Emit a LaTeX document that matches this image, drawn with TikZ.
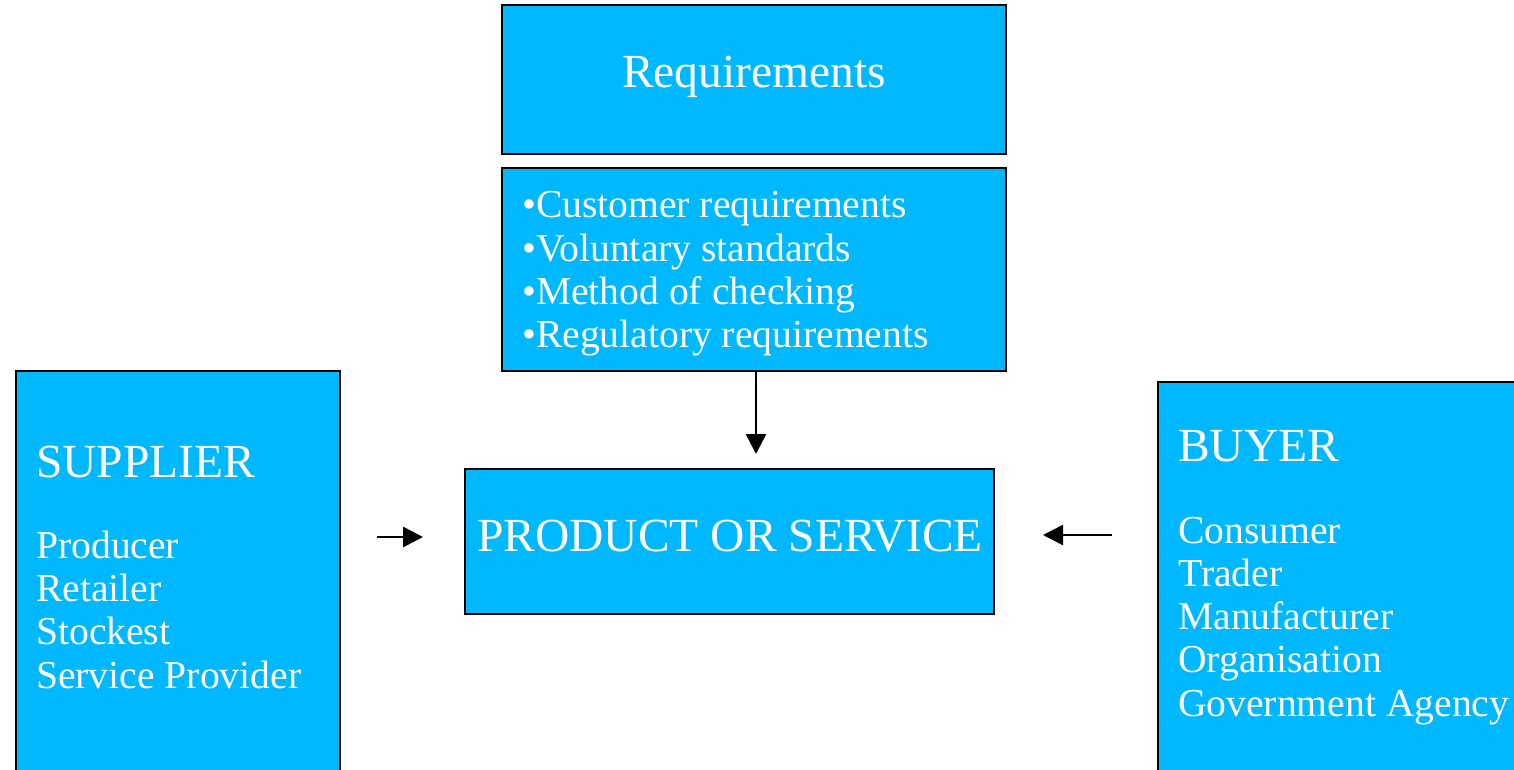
\documentclass[tikz,border=0pt]{standalone}
\usepackage{fontspec}
\setmainfont{Liberation Serif}
\usetikzlibrary{arrows.meta}
\definecolor{boxcyan}{RGB}{0,184,255}
\tikzset{
  box/.style={draw=black, line width=2pt, fill=boxcyan, inner sep=0pt},
  big/.style={text=white, inner sep=0pt, font=\fontsize{47.5}{52}\selectfont},
  small/.style={text=white, inner sep=0pt, anchor=base west, font=\fontsize{39.6}{43}\selectfont},
  arr/.style={line width=2.6pt, -{Triangle[length=20pt,width=20pt]}}
}
\begin{document}
\begin{tikzpicture}[x=1pt,y=-1pt]
\clip (0,0) rectangle (1514,770);
\fill[white] (0,0) rectangle (1514,770);
% boxes
\node[box, minimum width=504, minimum height=149] (req) at (754,79.5) {};
\node[box, minimum width=504, minimum height=203] (list) at (754,269.5) {};
\node[box, minimum width=529, minimum height=145] (prod) at (729.5,541.5) {};
\node[box, minimum width=324, minimum height=429] (sup) at (178,585.5) {};
\node[box, minimum width=382, minimum height=418] (buy) at (1349,591) {};
% texts
\node[big, anchor=base] (reqt) at (754,88) {Requirements};
\node[big, anchor=base] (prodt) at (730,551) {PRODUCT OR SERVICE};
\node[small] (l1) at (522,218) {•Customer requirements};
\node[small] (l2) at (522,261) {•Voluntary standards};
\node[small] (l3) at (522,304) {•Method of checking};
\node[small] (l4) at (522,347) {•Regulatory requirements};
\node[big, anchor=base west] (supt) at (36,477) {SUPPLIER};
\node[small] (s1) at (36,558) {Producer};
\node[small] (s2) at (36,601) {Retailer};
\node[small] (s3) at (36,644) {Stockest};
\node[small] (s4) at (36,688) {Service Provider};
\node[big, anchor=base west] (buyt) at (1178,461) {BUYER};
\node[small] (b1) at (1178,543) {Consumer};
\node[small] (b2) at (1178,586) {Trader};
\node[small] (b3) at (1178,629) {Manufacturer};
\node[small] (b4) at (1178,672) {Organisation};
\node[small] (b5) at (1178,716) {Government Agency};
% connectors
\coordinate (ya) at (0,537);
\coordinate (yb) at (0,535);
\coordinate (xc) at (756,0);
\draw[arr, shorten <=36pt, shorten >=41pt] (sup.east |- ya) -- (prod.west |- ya);
\draw[arr, shorten <=45pt, shorten >=48pt] (buy.west |- yb) -- (prod.east |- yb);
\draw[arr, shorten >=14pt] (xc |- list.south) -- (xc |- prod.north);
\end{tikzpicture}
\end{document}
